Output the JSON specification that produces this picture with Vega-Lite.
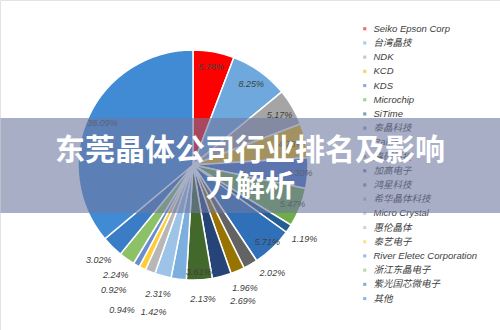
{
  "$schema": "https://vega.github.io/schema/vega-lite/v6.json",
  "width": 500,
  "height": 330,
  "padding": 0,
  "autosize": "none",
  "background": "#ffffff",
  "title": {
    "text": ["东莞晶体公司行业排名及影响", "力解析"],
    "orient": "top", "anchor": "middle", "frame": "group", "offset": 0, "dy": 217,
    "baseline": "middle", "lineHeight": 36,
    "font": "Noto Sans CJK SC", "fontWeight": "bold", "fontSize": 30, "color": "#ffffff",
    "zindex": 2
  },
  "data": {"values": [
    {"name": "Seiko Epson Corp", "value": 0.0578, "rank": 1},
    {"name": "台湾晶技", "value": 0.0825, "rank": 2},
    {"name": "NDK", "value": 0.0517, "rank": 3},
    {"name": "KCD", "value": 0.0478, "rank": 4},
    {"name": "KDS", "value": 0.0430, "rank": 5},
    {"name": "Microchip", "value": 0.0547, "rank": 6},
    {"name": "SiTime", "value": 0.0119, "rank": 7},
    {"name": "泰晶科技", "value": 0.0571, "rank": 8},
    {"name": "Rakon", "value": 0.0202, "rank": 9},
    {"name": "嘉硕科技", "value": 0.0196, "rank": 10},
    {"name": "加高电子", "value": 0.0269, "rank": 11},
    {"name": "鸿星科技", "value": 0.0361, "rank": 12},
    {"name": "希华晶体科技", "value": 0.0213, "rank": 13},
    {"name": "Micro Crystal", "value": 0.0231, "rank": 14},
    {"name": "惠伦晶体", "value": 0.0142, "rank": 15},
    {"name": "泰艺电子", "value": 0.0094, "rank": 16},
    {"name": "River Eletec Corporation", "value": 0.0092, "rank": 17},
    {"name": "浙江东晶电子", "value": 0.0224, "rank": 18},
    {"name": "紫光国芯微电子", "value": 0.0302, "rank": 19},
    {"name": "其他", "value": 0.3609, "rank": 20}
  ]},
  "layer": [
    {
      "encoding": {
        "x": {"datum": "pie", "type": "nominal", "scale": {"type": "point", "align": 0.386}, "axis": null},
        "theta": {"field": "value", "type": "quantitative", "stack": true},
        "order": {"field": "rank", "type": "quantitative"},
        "detail": {"field": "name", "type": "nominal"}
      },
      "layer": [
        {
          "mark": {"type": "arc", "outerRadius": 115, "stroke": "#ffffff", "strokeWidth": 1.5},
          "encoding": {
            "color": {
              "field": "name", "type": "nominal",
              "scale": {
                "domain": ["Seiko Epson Corp", "台湾晶技", "NDK", "KCD", "KDS", "Microchip", "SiTime", "泰晶科技", "Rakon", "嘉硕科技", "加高电子", "鸿星科技", "希华晶体科技", "Micro Crystal", "惠伦晶体", "泰艺电子", "River Eletec Corporation", "浙江东晶电子", "紫光国芯微电子", "其他"],
                "range": ["#ff0000", "#6fa8dc", "#a5a5a5", "#f2b800", "#4472c4", "#70ad47", "#255e91", "#3070b8", "#636363", "#997300", "#264478", "#43682b", "#7cafdd", "#9dc3e6", "#b7b7b7", "#ffcd33", "#698ed0", "#8cc168", "#3a7cc6", "#418ad4"]
              },
              "legend": {
                "orient": "none", "legendX": 360, "legendY": 24, "title": null,
                "direction": "vertical", "padding": 0,
                "symbolType": "square", "symbolSize": 10, "symbolOpacity": 0.6, "symbolStrokeWidth": 0,
                "labelFont": "Liberation Sans, Noto Sans CJK SC, sans-serif", "labelFontStyle": "italic",
                "labelFontSize": 9.5, "labelColor": "#404040", "labelOffset": 4, "labelLimit": 200,
                "rowPadding": 3.2
              }
            }
          }
        },
        {
          "mark": {"type": "text", "radius": 100, "font": "Liberation Sans", "fontStyle": "italic", "fontSize": 9, "color": "#404040"},
          "encoding": {"text": {"condition": {"test": "indexof(['Seiko Epson Corp','台湾晶技','NDK','KCD','其他'], datum.name) >= 0", "field": "value", "type": "quantitative", "format": ".2%"}, "value": ""}}
        },
        {
          "mark": {"type": "text", "radius": 107, "font": "Liberation Sans", "fontStyle": "italic", "fontSize": 9, "color": "#404040"},
          "encoding": {"text": {"condition": {"test": "indexof(['KDS','Microchip','泰晶科技','鸿星科技'], datum.name) >= 0", "field": "value", "type": "quantitative", "format": ".2%"}, "value": ""}}
        },
        {
          "mark": {"type": "text", "radius": 134, "font": "Liberation Sans", "fontStyle": "italic", "fontSize": 9, "color": "#404040"},
          "encoding": {"text": {"condition": {"test": "indexof(['SiTime','嘉硕科技','浙江东晶电子','紫光国芯微电子','Micro Crystal'], datum.name) >= 0", "field": "value", "type": "quantitative", "format": ".2%"}, "value": ""}}
        },
        {
          "mark": {"type": "text", "radius": 134, "thetaOffset": -0.11, "font": "Liberation Sans", "fontStyle": "italic", "fontSize": 9, "color": "#404040"},
          "encoding": {"text": {"condition": {"test": "datum.name === 'Rakon'", "field": "value", "type": "quantitative", "format": ".2%"}, "value": ""}}
        },
        {
          "mark": {"type": "text", "radius": 134, "thetaOffset": -0.2, "font": "Liberation Sans", "fontStyle": "italic", "fontSize": 9, "color": "#404040"},
          "encoding": {"text": {"condition": {"test": "datum.name === '希华晶体科技'", "field": "value", "type": "quantitative", "format": ".2%"}, "value": ""}}
        },
        {
          "mark": {"type": "text", "radius": 145, "thetaOffset": -0.1, "font": "Liberation Sans", "fontStyle": "italic", "fontSize": 9, "color": "#404040"},
          "encoding": {"text": {"condition": {"test": "datum.name === '加高电子'", "field": "value", "type": "quantitative", "format": ".2%"}, "value": ""}}
        },
        {
          "mark": {"type": "text", "radius": 152, "thetaOffset": -0.12, "font": "Liberation Sans", "fontStyle": "italic", "fontSize": 9, "color": "#404040"},
          "encoding": {"text": {"condition": {"test": "datum.name === '惠伦晶体'", "field": "value", "type": "quantitative", "format": ".2%"}, "value": ""}}
        },
        {
          "mark": {"type": "text", "radius": 161, "font": "Liberation Sans", "fontStyle": "italic", "fontSize": 9, "color": "#404040"},
          "encoding": {"text": {"condition": {"test": "datum.name === '泰艺电子'", "field": "value", "type": "quantitative", "format": ".2%"}, "value": ""}}
        },
        {
          "mark": {"type": "text", "radius": 148, "thetaOffset": 0.05, "font": "Liberation Sans", "fontStyle": "italic", "fontSize": 9, "color": "#404040"},
          "encoding": {"text": {"condition": {"test": "datum.name === 'River Eletec Corporation'", "field": "value", "type": "quantitative", "format": ".2%"}, "value": ""}}
        }
      ]
    },
    {
      "data": {"values": [{}]},
      "mark": {"type": "point", "opacity": 0},
      "encoding": {
        "y": {
          "datum": "banner", "type": "nominal",
          "axis": {"title": null, "domain": false, "ticks": false, "labels": false, "grid": true, "gridWidth": 95, "gridColor": "#6e78a0", "gridOpacity": 0.6, "zindex": 1}
        }
      }
    }
  ],
  "config": {"view": {"stroke": "#e3e3e3"}}
}
